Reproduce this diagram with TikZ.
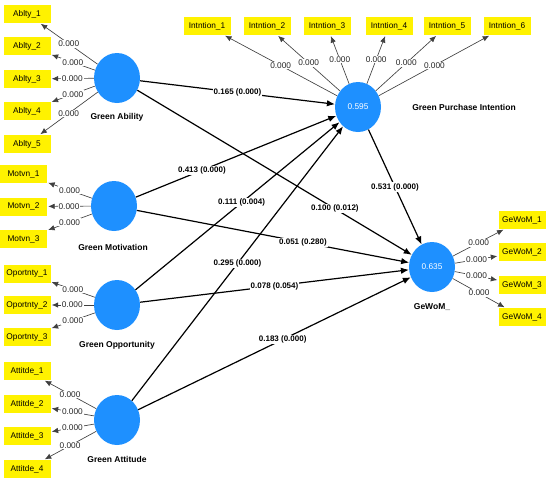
\documentclass[tikz,border=0pt]{standalone}
\usepackage{fontspec}
\setmainfont{Liberation Sans}
\usetikzlibrary{shapes.geometric,arrows.meta}
\definecolor{lvblue}{RGB}{30,144,255}
\tikzset{
	ind/.style = {fill=yellow, minimum width=47pt, minimum height=18pt, inner sep=0pt, font=\fontsize{8.3}{9}\selectfont},
	lv/.style = {ellipse, fill=lvblue, minimum width=46pt, minimum height=50pt, inner sep=0pt, text=white, font=\fontsize{8.3}{9}\selectfont},
	lvname/.style = {font=\bfseries\fontsize{8.5}{10}\selectfont},
	load/.style = {draw=black!75, line width=0.65pt, -{Latex[length=6.5pt,width=5.5pt]}, shorten >=1pt},
	coef/.style = {draw=black, line width=1.2pt, -{Latex[length=8pt,width=6.5pt]}},
	lw/.style = {midway, fill=white, inner sep=1pt, text=black!85, font=\fontsize{8.3}{9}\selectfont},
	cw/.style = {fill=white, inner sep=1pt, font=\bfseries\fontsize{8}{9}\selectfont}
}
\begin{document}
\begin{tikzpicture}[x=1pt, y=-1pt]
		\useasboundingbox (0,0) rectangle (550,483);
		% latent variables
		\node[lv] (abil) at (117,78) {};
		\node[lv] (motv) at (114,206) {};
		\node[lv] (oppt) at (117,305) {};
		\node[lv] (attd) at (117,420) {};
		\node[lv] (gpi) at (358,107) {0.595};
		\node[lv] (gewom) at (432,267) {0.635};
		\node[lvname] (abilname) at (117,117) {Green Ability};
		\node[lvname] (motvname) at (113,247) {Green Motivation};
		\node[lvname] (opptname) at (117,345) {Green Opportunity};
		\node[lvname] (attdname) at (117,459) {Green Attitude};
		\node[lvname] (gpiname) at (464,107) {Green Purchase Intention};
		\node[lvname] (gewomname) at (432,307) {GeWoM\_};
		% indicators
		\node[ind] (ab1) at (27,14) {Ablty\_1};
		\node[ind] (ab2) at (27,46) {Ablty\_2};
		\node[ind] (ab3) at (27,79) {Ablty\_3};
		\node[ind] (ab4) at (27,111) {Ablty\_4};
		\node[ind] (ab5) at (27,144) {Ablty\_5};
		\node[ind] (mo1) at (23.5,174) {Motvn\_1};
		\node[ind] (mo2) at (23.5,206.5) {Motvn\_2};
		\node[ind] (mo3) at (23.5,239) {Motvn\_3};
		\node[ind] (op1) at (27,273.5) {Oportnty\_1};
		\node[ind] (op2) at (27,305) {Oportnty\_2};
		\node[ind] (op3) at (27,337) {Oportnty\_3};
		\node[ind] (at1) at (27,371) {Attitde\_1};
		\node[ind] (at2) at (27,404) {Attitde\_2};
		\node[ind] (at3) at (27,436) {Attitde\_3};
		\node[ind] (at4) at (27,469) {Attitde\_4};
		\node[ind] (in1) at (207,26) {Intntion\_1};
		\node[ind] (in2) at (267,26) {Intntion\_2};
		\node[ind] (in3) at (327,26) {Intntion\_3};
		\node[ind] (in4) at (389,26) {Intntion\_4};
		\node[ind] (in5) at (447,26) {Intntion\_5};
		\node[ind] (in6) at (507,26) {Intntion\_6};
		\node[ind] (gw1) at (522,220) {GeWoM\_1};
		\node[ind] (gw2) at (522,252) {GeWoM\_2};
		\node[ind] (gw3) at (522,285) {GeWoM\_3};
		\node[ind] (gw4) at (522,317) {GeWoM\_4};
		% outer loadings
		\draw[load] (abil) -- node[lw] {0.000} (ab1);
		\draw[load] (abil) -- node[lw] {0.000} (ab2);
		\draw[load] (abil) -- node[lw] {0.000} (ab3);
		\draw[load] (abil) -- node[lw] {0.000} (ab4);
		\draw[load] (abil) -- node[lw] {0.000} (ab5);
		\draw[load] (motv) -- node[lw] {0.000} (mo1);
		\draw[load] (motv) -- node[lw] {0.000} (mo2);
		\draw[load] (motv) -- node[lw] {0.000} (mo3);
		\draw[load] (oppt) -- node[lw] {0.000} (op1);
		\draw[load] (oppt) -- node[lw] {0.000} (op2);
		\draw[load] (oppt) -- node[lw] {0.000} (op3);
		\draw[load] (attd) -- node[lw] {0.000} (at1);
		\draw[load] (attd) -- node[lw] {0.000} (at2);
		\draw[load] (attd) -- node[lw] {0.000} (at3);
		\draw[load] (attd) -- node[lw] {0.000} (at4);
		\draw[load] (gpi) -- node[lw] {0.000} (in1);
		\draw[load] (gpi) -- node[lw] {0.000} (in2);
		\draw[load] (gpi) -- node[lw] {0.000} (in3);
		\draw[load] (gpi) -- node[lw] {0.000} (in4);
		\draw[load] (gpi) -- node[lw] {0.000} (in5);
		\draw[load] (gpi) -- node[lw] {0.000} (in6);
		\draw[load] (gewom) -- node[lw] {0.000} (gw1);
		\draw[load] (gewom) -- node[lw] {0.000} (gw2);
		\draw[load] (gewom) -- node[lw] {0.000} (gw3);
		\draw[load] (gewom) -- node[lw] {0.000} (gw4);
		% structural paths
		\draw[coef] (abil) -- node[cw, pos=0.5] {0.165 (0.000)} (gpi);
		\draw[coef] (motv) -- node[cw, pos=0.33] {0.413 (0.000)} (gpi);
		\draw[coef] (oppt) -- node[cw, pos=0.52] {0.111 (0.004)} (gpi);
		\draw[coef] (attd) -- node[cw, pos=0.5] {0.295 (0.000)} (gpi);
		\draw[coef] (abil) -- node[cw, pos=0.72] {0.100 (0.012)} (gewom);
		\draw[coef] (motv) -- node[cw, pos=0.61] {0.051 (0.280)} (gewom);
		\draw[coef] (oppt) -- node[cw, pos=0.5] {0.078 (0.054)} (gewom);
		\draw[coef] (attd) -- node[cw, pos=0.53] {0.183 (0.000)} (gewom);
		\draw[coef] (gpi) -- node[cw, pos=0.5] {0.531 (0.000)} (gewom);
\end{tikzpicture}
\end{document}
